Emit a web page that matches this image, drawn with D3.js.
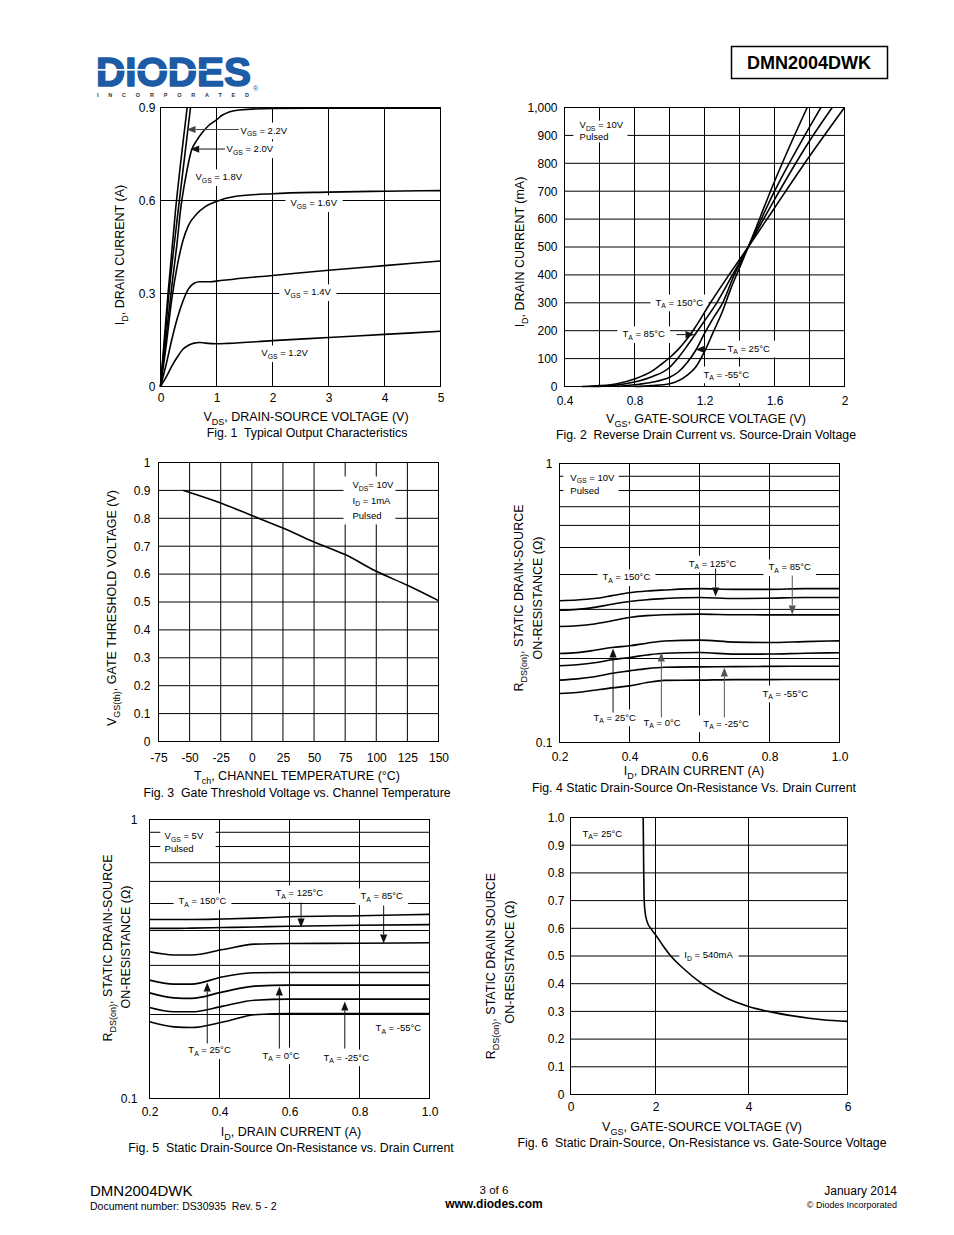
<!DOCTYPE html>
<html><head><meta charset="utf-8">
<script src="https://cdn.jsdelivr.net/npm/d3@7"></script>
<style>
html,body{margin:0;padding:0;background:#fff;}
svg{display:block;}
text{font-family:"Liberation Sans",Arial,Helvetica,sans-serif;white-space:pre;}
</style></head><body>
<svg id="page" width="954" height="1235"></svg>
<script>
// ---------------- DATA ----------------
// Fig 1: Typical output characteristics (VDS [V], ID [A])
const fig1XTicks = [0,1,2,3,4,5];
const fig1YTicks = [0,0.3,0.6,0.9];
const fig1CurveA = [[0,0],[0.13,0.29],[0.268,0.568],[0.387,0.764],[0.476,0.9]];
const fig1CurveB = [[0,0],[0.15,0.3],[0.316,0.568],[0.446,0.764],[0.536,0.9]];
const fig1Vgs18 = [[0,0],[0.1,0.16],[0.2,0.32],[0.3,0.47],[0.357,0.568],[0.45,0.675],[0.55,0.76],[0.65,0.795],[0.75,0.82],[0.86,0.842],[1.0,0.86],[1.1,0.875],[1.4,0.892],[2,0.897],[3,0.898],[5,0.898]];
const fig1Vgs16 = [[0,0],[0.1,0.13],[0.2,0.28],[0.3,0.39],[0.4,0.47],[0.5,0.52],[0.65,0.557],[0.8,0.58],[1.0,0.597],[1.3,0.612],[2,0.622],[3,0.627],[4,0.63],[5,0.632]];
const fig1Vgs14 = [[0,0],[0.1,0.07],[0.2,0.15],[0.3,0.22],[0.4,0.275],[0.5,0.315],[0.6,0.333],[0.7,0.338],[0.9,0.338],[1.0,0.34],[1.5,0.35],[2,0.358],[3,0.375],[4,0.39],[5,0.405]];
const fig1Vgs12 = [[0,0],[0.1,0.03],[0.2,0.065],[0.3,0.095],[0.4,0.12],[0.5,0.133],[0.6,0.14],[0.7,0.142],[0.8,0.14],[1.0,0.138],[1.2,0.139],[2,0.148],[3,0.158],[4,0.168],[5,0.178]];

// Fig 2: Reverse drain current (VGS [V], ID [mA])
const fig2XTicks = [0.4,0.8,1.2,1.6,2];
const fig2YTicks = [0,100,200,300,400,500,600,700,800,900,1000];
const fig2T150 = [[0.5,0],[0.6,3],[0.7,10],[0.8,27],[0.9,55],[0.95,78],[1.0,103],[1.05,133],[1.1,170],[1.15,215],[1.234,300],[1.34,400],[1.45,500],[1.6,640],[1.8,825],[2.0,1000]];
const fig2T85 = [[0.55,0],[0.7,5],[0.8,16],[0.9,35],[1.0,68],[1.05,103],[1.1,145],[1.15,190],[1.2,235],[1.27,300],[1.36,400],[1.45,500],[1.6,670],[1.8,880],[1.93,1000]];
const fig2T25 = [[0.7,0],[0.8,6],[0.9,15],[1.0,33],[1.05,52],[1.1,85],[1.15,130],[1.2,190],[1.25,245],[1.3,295],[1.37,400],[1.45,500],[1.6,700],[1.8,930],[1.865,1000]];
const fig2Tm55 = [[0.8,0],[0.9,3],[1.0,10],[1.1,40],[1.15,70],[1.2,125],[1.25,195],[1.3,265],[1.35,350],[1.4,425],[1.45,500],[1.6,735],[1.7,880],[1.787,1000]];

// Fig 3: Gate threshold voltage vs channel temperature
const fig3XTicks = [-75,-50,-25,0,25,50,75,100,125,150];
const fig3YTicks = [0,0.1,0.2,0.3,0.4,0.5,0.6,0.7,0.8,0.9,1];
const fig3Temp = [-55,-25,0,25,50,75,100,125,150];
const fig3Vth = [0.9,0.855,0.81,0.765,0.715,0.67,0.61,0.56,0.505];

// Fig 4: RDS(on) vs ID, VGS = 10V
const fig4XTicks = [0.2,0.4,0.6,0.8,1.0];
const fig4YTicks = [0.1,1];
const fig4Id = [0.2,0.25,0.3,0.35,0.4,0.45,0.5,0.6,0.7,0.8,0.9,1.0];
const fig4T150 = [0.322,0.324,0.328,0.336,0.344,0.349,0.352,0.356,0.354,0.354,0.356,0.356];
const fig4T125 = [0.298,0.300,0.305,0.313,0.320,0.325,0.328,0.331,0.328,0.329,0.331,0.331];
const fig4T85  = [0.2605,0.262,0.266,0.273,0.2806,0.285,0.287,0.2884,0.287,0.2868,0.2868,0.2868];
const fig4T25  = [0.2084,0.210,0.214,0.219,0.2221,0.227,0.231,0.2327,0.229,0.2282,0.230,0.2314];
const fig4T0   = [0.1883,0.190,0.193,0.198,0.2017,0.206,0.209,0.2101,0.2073,0.2075,0.209,0.2097];
const fig4Tm25 = [0.1673,0.169,0.172,0.177,0.1806,0.184,0.186,0.1867,0.187,0.1875,0.1877,0.1877];
const fig4Tm55 = [0.1498,0.151,0.154,0.157,0.1596,0.164,0.167,0.1673,0.168,0.168,0.1682,0.1682];

// Fig 5: RDS(on) vs ID, VGS = 5V
const fig5XTicks = [0.2,0.4,0.6,0.8,1.0];
const fig5YTicks = [0.1,1];
const fig5Id = [0.2,0.27,0.32,0.41,0.5,0.6,0.8,1.0];
const fig5T150 = [0.438,0.438,0.438,0.440,0.443,0.448,0.452,0.457];
const fig5T125 = [0.407,0.407,0.408,0.410,0.412,0.4146,0.418,0.420];
const fig5T85  = [0.3356,0.327,0.327,0.342,0.3574,0.3594,0.360,0.3614];
const fig5T25  = [0.2656,0.257,0.257,0.2731,0.2822,0.2829,0.2829,0.2829];
const fig5T0   = [0.2391,0.2295,0.2285,0.2411,0.2527,0.2548,0.2548,0.2548];
const fig5Tm25 = [0.2119,0.2045,0.2045,0.2143,0.2251,0.227,0.227,0.227];
const fig5Tm55 = [0.1883,0.1806,0.1796,0.188,0.1995,0.2017,0.2017,0.2017];

// Fig 6: RDS(on) vs VGS, ID = 540mA
const fig6XTicks = [0,2,4,6];
const fig6YTicks = [0,0.1,0.2,0.3,0.4,0.5,0.6,0.7,0.8,0.9,1.0];
const fig6Curve = [[1.71,1.0],[1.72,0.85],[1.73,0.72],[1.75,0.665],[1.8,0.625],[1.9,0.597],[2.0,0.577],[2.15,0.54],[2.33,0.5],[2.6,0.455],[3.0,0.40],[3.5,0.35],[4.0,0.318],[4.4,0.3],[5.0,0.281],[5.5,0.27],[6.0,0.264]];

// ---------------- DRAWING ----------------
const svg = d3.select('#page');
const FONT = '"Liberation Sans",Arial,Helvetica,sans-serif';

function rich(sel, str, fs) {
  const re = /_\{([^}]*)\}/g;
  let last = 0, m, down = false;
  const sh = fs * 0.28;
  while ((m = re.exec(str))) {
    if (m.index > last) {
      const t = sel.append('tspan').text(str.slice(last, m.index));
      if (down) { t.attr('dy', -sh); down = false; }
    }
    sel.append('tspan').attr('dy', sh).attr('font-size', fs * 0.72).text(m[1]);
    down = true;
    last = re.lastIndex;
  }
  if (last < str.length) {
    const t = sel.append('tspan').text(str.slice(last));
    if (down) t.attr('dy', -sh);
  }
  return sel;
}

function arrowHead(g, X1, Y1, X2, Y2, color, w) {
  const ang = Math.atan2(Y2 - Y1, X2 - X1);
  const L = 9, W = 3.6;
  const bx = X2 - L * Math.cos(ang), by = Y2 - L * Math.sin(ang);
  g.append('line').attr('x1', X1).attr('y1', Y1).attr('x2', bx).attr('y2', by)
    .attr('stroke', color).attr('stroke-width', w);
  const pts = [[X2, Y2], [bx + W * Math.sin(ang), by - W * Math.cos(ang)], [bx - W * Math.sin(ang), by + W * Math.cos(ang)]];
  g.append('polygon').attr('points', pts.map(p => p.join(',')).join(' ')).attr('fill', color);
}

function drawChart(c) {
  const g = svg.append('g');
  const x = c.x, y = c.y;
  const xr = x.range(), yr = y.range();
  const X0 = xr[0], X1 = xr[xr.length - 1], YB = yr[0], YT = yr[yr.length - 1];

  g.append('g').selectAll('line').data(c.gridX).join('line')
    .attr('x1', d => x(d)).attr('x2', d => x(d)).attr('y1', YT).attr('y2', YB)
    .attr('stroke', '#000').attr('stroke-width', 1);
  g.append('g').selectAll('line').data(c.gridY).join('line')
    .attr('x1', X0).attr('x2', X1).attr('y1', d => y(d)).attr('y2', d => y(d))
    .attr('stroke', '#000').attr('stroke-width', 1);

  const bgG = g.append('g');
  (c.boxes || []).forEach(b => {
    bgG.append('rect').attr('x', x(b.x0)).attr('y', y(b.y1))
      .attr('width', x(b.x1) - x(b.x0)).attr('height', y(b.y0) - y(b.y1)).attr('fill', '#fff');
  });

  const line = d3.line().x(d => x(d[0])).y(d => y(d[1])).curve(d3.curveMonotoneX);
  g.append('g').selectAll('path').data(c.series).join('path')
    .attr('d', line).attr('fill', 'none').attr('stroke', '#000')
    .attr('stroke-width', 1.6).attr('stroke-linejoin', 'round');

  const labG = g.append('g');
  (c.labels || []).forEach(l => {
    const t = labG.append('text').attr('x', x(l.x)).attr('y', y(l.y))
      .attr('font-size', 9.5).attr('font-family', FONT);
    rich(t, l.t, 9.5);
    if (l.bg !== false) {
      const bb = t.node().getBBox();
      bgG.append('rect').attr('x', bb.x - 5).attr('y', bb.y - 2)
        .attr('width', bb.width + 10).attr('height', bb.height + 4).attr('fill', '#fff');
    }
  });
  const arG = g.append('g');
  (c.arrows || []).forEach(a => {
    arrowHead(arG, x(a.x1), y(a.y1), x(a.x2), y(a.y2), a.color || '#111', 1);
  });

  g.append('rect').attr('x', X0).attr('y', YT).attr('width', X1 - X0).attr('height', YB - YT)
    .attr('fill', 'none').attr('stroke', '#000').attr('stroke-width', 1);

  const ax = g.append('g').attr('transform', `translate(0,${YB})`)
    .call(d3.axisBottom(x).tickValues(c.xTicks).tickSize(0).tickPadding(c.xPad).tickFormat(c.xFmt));
  ax.select('.domain').remove();
  ax.selectAll('text').attr('font-size', 12).attr('font-family', FONT).attr('fill', '#000');
  const ay = g.append('g').attr('transform', `translate(${X0},0)`)
    .call(d3.axisLeft(y).tickValues(c.yTicks).tickSize(0).tickPadding(c.yPad).tickFormat(c.yFmt));
  ay.select('.domain').remove();
  ay.selectAll('text').attr('font-size', 12).attr('font-family', FONT).attr('fill', '#000');

  const xt = g.append('text').attr('x', c.xTitle[1]).attr('y', c.xTitle[2])
    .attr('text-anchor', 'middle').attr('font-size', 12.5);
  rich(xt, c.xTitle[0], 12.5);
  g.append('text').attr('x', c.caption[1]).attr('y', c.caption[2])
    .attr('text-anchor', 'middle').attr('font-size', 12.3).text(c.caption[0]);
  c.yTitle.forEach(yt => {
    const t = g.append('text').attr('transform', `translate(${yt[1]},${yt[2]}) rotate(-90)`)
      .attr('text-anchor', 'middle').attr('dy', '0.35em').attr('font-size', 12.5);
    rich(t, yt[0], 12.5);
  });
}

const f1 = d => d === 0 ? '0' : d3.format('.1f')(d);
const plain = d => String(d);

// ---- Fig 1
drawChart({
  x: d3.scaleLinear().domain([0, 5]).range([160.5, 440.5]),
  y: d3.scaleLinear().domain([0, 0.9]).range([386.5, 107.5]),
  gridX: [1, 2, 3, 4], gridY: [0.3, 0.6],
  series: [fig1CurveA, fig1CurveB, fig1Vgs18, fig1Vgs16, fig1Vgs14, fig1Vgs12],
  labels: [
    {t: 'V_{GS} = 2.2V', x: 1.43, y: 0.816},
    {t: 'V_{GS} = 2.0V', x: 1.18, y: 0.755},
    {t: 'V_{GS} = 1.8V', x: 0.625, y: 0.665},
    {t: 'V_{GS} = 1.6V', x: 2.32, y: 0.581},
    {t: 'V_{GS} = 1.4V', x: 2.21, y: 0.294},
    {t: 'V_{GS} = 1.2V', x: 1.80, y: 0.097}],
  arrows: [
    {x1: 1.40, y1: 0.829, x2: 0.465, y2: 0.829, color: '#444'},
    {x1: 1.15, y1: 0.766, x2: 0.53, y2: 0.766}],
  xTicks: fig1XTicks, yTicks: fig1YTicks, xFmt: plain, yFmt: f1, xPad: 6.5, yPad: 5,
  xTitle: ['V_{DS}, DRAIN-SOURCE VOLTAGE (V)', 306, 421],
  caption: ['Fig. 1  Typical Output Characteristics', 307, 437],
  yTitle: [['I_{D}, DRAIN CURRENT (A)', 120, 255]]
});

// ---- Fig 2
drawChart({
  x: d3.scaleLinear().domain([0.4, 2]).range([564.5, 844.5]),
  y: d3.scaleLinear().domain([0, 1000]).range([386.5, 107.5]),
  gridX: [0.6, 0.8, 1.0, 1.2, 1.4, 1.6, 1.8], gridY: [100, 200, 300, 400, 500, 600, 700, 800, 900],
  series: [fig2T150, fig2T85, fig2T25, fig2Tm55],
  boxes: [{x0: 0.451, x1: 0.76, y0: 875, y1: 953}],
  labels: [
    {t: 'V_{DS} = 10V', x: 0.486, y: 925, bg: false},
    {t: 'Pulsed', x: 0.486, y: 882, bg: false},
    {t: 'T_{A} = 150°C', x: 0.92, y: 290},
    {t: 'T_{A} = 85°C', x: 0.731, y: 176},
    {t: 'T_{A} = 25°C', x: 1.331, y: 125},
    {t: 'T_{A} = -55°C', x: 1.194, y: 32}],
  arrows: [
    {x1: 1.04, y1: 186, x2: 1.143, y2: 186},
    {x1: 1.32, y1: 133, x2: 1.149, y2: 133}],
  xTicks: fig2XTicks, yTicks: fig2YTicks, xFmt: d => d === 2 ? '2' : d3.format('.1f')(d), yFmt: d3.format(','), xPad: 9.5, yPad: 7,
  xTitle: ['V_{GS}, GATE-SOURCE VOLTAGE (V)', 706, 423],
  caption: ['Fig. 2  Reverse Drain Current vs. Source-Drain Voltage', 706, 439],
  yTitle: [['I_{D}, DRAIN CURRENT (mA)', 520, 252]]
});

// ---- Fig 3
drawChart({
  x: d3.scaleLinear().domain([-75, 150]).range([158.5, 438.5]),
  y: d3.scaleLinear().domain([0, 1]).range([741.5, 462.5]),
  gridX: [-50, -25, 0, 25, 50, 75, 100, 125], gridY: [0.1, 0.2, 0.3, 0.4, 0.5, 0.6, 0.7, 0.8, 0.9],
  series: [fig3Temp.map((t, i) => [t, fig3Vth[i]])],
  boxes: [{x0: 73.7, x1: 115.4, y0: 0.778, y1: 0.95}],
  labels: [
    {t: 'V_{DS}= 10V', x: 80.9, y: 0.907, bg: false},
    {t: 'I_{D} = 1mA', x: 80.9, y: 0.853, bg: false},
    {t: 'Pulsed', x: 80.9, y: 0.799, bg: false}],
  xTicks: fig3XTicks, yTicks: fig3YTicks, xFmt: plain, yFmt: d => d === 0 ? '0' : (d === 1 ? '1' : d3.format('.1f')(d)), xPad: 11.5, yPad: 8,
  xTitle: ['T_{ch}, CHANNEL TEMPERATURE (°C)', 297, 780],
  caption: ['Fig. 3  Gate Threshold Voltage vs. Channel Temperature', 297, 797],
  yTitle: [['V_{GS(th)}, GATE THRESHOLD VOLTAGE (V)', 112, 608]]
});

// ---- Fig 4
drawChart({
  x: d3.scaleLinear().domain([0.2, 1.0]).range([559.5, 839.5]),
  y: d3.scaleLog().domain([0.1, 1]).range([742.5, 463.5]),
  gridX: [0.4, 0.6, 0.8], gridY: [0.2, 0.3, 0.4, 0.5, 0.6, 0.7, 0.8, 0.9],
  series: [fig4T150, fig4T125, fig4T85, fig4T25, fig4T0, fig4Tm25, fig4Tm55].map(s => fig4Id.map((v, i) => [v, s[i]])),
  boxes: [{x0: 0.211, x1: 0.369, y0: 0.768, y1: 0.944}],
  labels: [
    {t: 'V_{GS} = 10V', x: 0.231, y: 0.869, bg: false},
    {t: 'Pulsed', x: 0.231, y: 0.780, bg: false},
    {t: 'T_{A} = 150°C', x: 0.323, y: 0.381},
    {t: 'T_{A} = 125°C', x: 0.569, y: 0.427},
    {t: 'T_{A} = 85°C', x: 0.797, y: 0.4136},
    {t: 'T_{A} = -55°C', x: 0.78, y: 0.146},
    {t: 'T_{A} = 25°C', x: 0.297, y: 0.1199},
    {t: 'T_{A} = 0°C', x: 0.44, y: 0.115},
    {t: 'T_{A} = -25°C', x: 0.611, y: 0.1141}],
  arrows: [
    {x1: 0.646, y1: 0.4205, x2: 0.646, y2: 0.3336},
    {x1: 0.865, y1: 0.3968, x2: 0.865, y2: 0.2876, color: '#555'},
    {x1: 0.353, y1: 0.128, x2: 0.353, y2: 0.2173},
    {x1: 0.491, y1: 0.1229, x2: 0.491, y2: 0.2102, color: '#555'},
    {x1: 0.671, y1: 0.1229, x2: 0.671, y2: 0.1857, color: '#555'}],
  xTicks: fig4XTicks, yTicks: fig4YTicks, xFmt: d3.format('.1f'), yFmt: d => d === 1 ? '1' : '0.1', xPad: 9.5, yPad: 7,
  xTitle: ['I_{D}, DRAIN CURRENT (A)', 694, 775],
  caption: ['Fig. 4 Static Drain-Source On-Resistance Vs. Drain Current', 694, 792],
  yTitle: [['R_{DS(on)}, STATIC DRAIN-SOURCE', 519, 598], ['ON-RESISTANCE (Ω)', 538, 598]]
});

// ---- Fig 5
drawChart({
  x: d3.scaleLinear().domain([0.2, 1.0]).range([149.5, 429.5]),
  y: d3.scaleLog().domain([0.1, 1]).range([1098.5, 819.5]),
  gridX: [0.4, 0.6, 0.8], gridY: [0.2, 0.3, 0.4, 0.5, 0.6, 0.7, 0.8, 0.9],
  series: [fig5T150, fig5T125, fig5T85, fig5T25, fig5T0, fig5Tm25, fig5Tm55].map(s => fig5Id.map((v, i) => [v, s[i]])),
  boxes: [{x0: 0.231, x1: 0.389, y0: 0.753, y1: 0.938}],
  labels: [
    {t: 'V_{GS} = 5V', x: 0.243, y: 0.848, bg: false},
    {t: 'Pulsed', x: 0.243, y: 0.762, bg: false},
    {t: 'T_{A} = 150°C', x: 0.283, y: 0.497},
    {t: 'T_{A} = 125°C', x: 0.56, y: 0.53},
    {t: 'T_{A} = 85°C', x: 0.803, y: 0.517},
    {t: 'T_{A} = -55°C', x: 0.846, y: 0.1739},
    {t: 'T_{A} = 25°C', x: 0.311, y: 0.145},
    {t: 'T_{A} = 0°C', x: 0.523, y: 0.139},
    {t: 'T_{A} = -25°C', x: 0.697, y: 0.1368}],
  arrows: [
    {x1: 0.633, y1: 0.504, x2: 0.633, y2: 0.41},
    {x1: 0.869, y1: 0.492, x2: 0.869, y2: 0.3594},
    {x1: 0.365, y1: 0.1575, x2: 0.365, y2: 0.2605},
    {x1: 0.571, y1: 0.151, x2: 0.571, y2: 0.252},
    {x1: 0.758, y1: 0.151, x2: 0.758, y2: 0.2227}],
  xTicks: fig5XTicks, yTicks: fig5YTicks, xFmt: d3.format('.1f'), yFmt: d => d === 1 ? '1' : '0.1', xPad: 8.5, yPad: 12,
  xTitle: ['I_{D}, DRAIN CURRENT (A)', 291, 1136],
  caption: ['Fig. 5  Static Drain-Source On-Resistance vs. Drain Current', 291, 1152],
  yTitle: [['R_{DS(on)}, STATIC DRAIN-SOURCE', 108, 948], ['ON-RESISTANCE (Ω)', 126, 947]]
});

// ---- Fig 6
drawChart({
  x: d3.scaleLinear().domain([0, 2, 4, 6]).range([570.5, 655.5, 748.5, 847.5]),
  y: d3.scaleLinear().domain([0, 1]).range([1094.5, 817.5]),
  gridX: [2, 4], gridY: [0.1, 0.2, 0.3, 0.4, 0.5, 0.6, 0.7, 0.8, 0.9],
  series: [fig6Curve],
  labels: [
    {t: 'T_{A}= 25°C', x: 0.28, y: 0.931, bg: false},
    {t: 'I_{D} = 540mA', x: 2.62, y: 0.491}],
  xTicks: fig6XTicks, yTicks: fig6YTicks, xFmt: plain, yFmt: f1, xPad: 7.5, yPad: 6,
  xTitle: ['V_{GS}, GATE-SOURCE VOLTAGE (V)', 702, 1131],
  caption: ['Fig. 6  Static Drain-Source, On-Resistance vs. Gate-Source Voltage', 702, 1147],
  yTitle: [['R_{DS(on)}, STATIC DRAIN SOURCE', 491, 966], ['ON-RESISTANCE (Ω)', 510, 962]]
});

// ---- Header
const logoBlue = '#1d5ba6';
svg.append('text').attr('x', 96).attr('y', 86).attr('font-family', '"DejaVu Sans",sans-serif')
  .attr('font-weight', 'bold').attr('font-size', 40).style('fill', logoBlue)
  .style('stroke', logoBlue).style('stroke-width', 1.6).style('stroke-linejoin', 'round')
  .attr('textLength', 155).attr('lengthAdjust', 'spacingAndGlyphs').text('DIODES');
svg.append('rect').attr('x', 97).attr('y', 69).attr('width', 110).attr('height', 1.6).attr('fill', '#fff');
svg.append('text').attr('x', 97).attr('y', 97).attr('font-weight', 'bold').attr('font-size', 5.5)
  .style('fill', '#333').attr('textLength', 152).attr('lengthAdjust', 'spacing').text('INCORPORATED');
svg.append('text').attr('x', 253).attr('y', 91).attr('font-size', 7).style('fill', logoBlue).text('®');

svg.append('rect').attr('x', 731.5).attr('y', 46.5).attr('width', 156).attr('height', 32)
  .attr('fill', 'none').attr('stroke', '#000').attr('stroke-width', 1.5);
svg.append('text').attr('x', 809).attr('y', 69).attr('text-anchor', 'middle')
  .attr('font-weight', 'bold').attr('font-size', 18).text('DMN2004DWK');

// ---- Footer
svg.append('text').attr('x', 90).attr('y', 1196).attr('font-size', 15).text('DMN2004DWK');
svg.append('text').attr('x', 90).attr('y', 1210).attr('font-size', 10.5).text('Document number: DS30935  Rev. 5 - 2');
svg.append('text').attr('x', 494).attr('y', 1194).attr('text-anchor', 'middle').attr('font-size', 11.5).text('3 of 6');
svg.append('text').attr('x', 494).attr('y', 1208).attr('text-anchor', 'middle').attr('font-weight', 'bold').attr('font-size', 12).text('www.diodes.com');
svg.append('text').attr('x', 897).attr('y', 1195).attr('text-anchor', 'end').attr('font-size', 12).text('January 2014');
svg.append('text').attr('x', 897).attr('y', 1208).attr('text-anchor', 'end').attr('font-size', 9).text('© Diodes Incorporated');
</script>
</body></html>
